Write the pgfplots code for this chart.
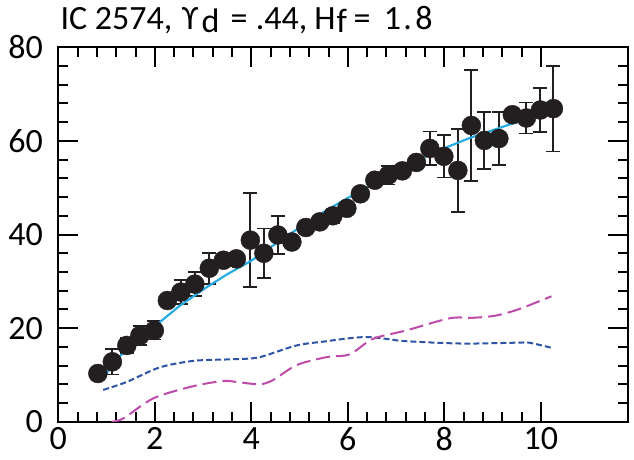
\documentclass[border=0pt]{standalone}
\usepackage{pgfplots}
\pgfplotsset{compat=1.18}
\usepackage{fontspec}
\setmainfont{Carlito}
\definecolor{dot}{RGB}{35,31,32}
\definecolor{fitblue}{RGB}{41,170,225}
\definecolor{dkblue}{RGB}{46,84,165}
\definecolor{mag}{RGB}{190,75,170}
\newcommand{\seg}[2]{\makebox[#1pt][l]{#2}}
\newcommand{\low}[1]{\raisebox{-3.5pt}{#1}}
\begin{document}
\begin{tikzpicture}
\useasboundingbox (0,0) rectangle (634pt,459pt);
\begin{axis}[
  at={(58.3pt,37.3pt)}, anchor=south west,
  scale only axis, width=569.4pt, height=374.4pt,
  xmin=0, xmax=11.8, ymin=0, ymax=80,
  xtick={0,2,...,10}, ytick={0,20,...,80},
  minor x tick num=4, minor y tick num=4,
  tick align=inside,
  major tick length=20pt, minor tick length=10pt,
  axis line style={line width=2pt},
  tick style={black, line width=2pt},
  /pgf/number format/assume math mode=true,
  ticklabel style={font=\fontsize{34}{40}\selectfont},
  yticklabel style={xshift=-12pt},
  xticklabel style={yshift=-2.5pt},
  title={\seg{121.4}{IC 2574,}\seg{19.6}{ϒ}\seg{29}{\low{d}}\seg{25.4}{=}\seg{58.6}{.44,}\seg{22.2}{H}\seg{16.8}{\low{f}}\seg{30.3}{=}\seg{19.5}{1}\seg{12}{.}8},
  title style={at={(0,1)}, anchor=base west, yshift=12pt, xshift=2pt, inner sep=0pt,
    font=\fontsize{34}{40}\selectfont},
]
\addplot[only marks, mark=*, mark size=9.5pt, color=dot, mark options={fill=dot, draw=dot},
  error bars/.cd, y dir=both, y explicit,
  error bar style={line width=1.8pt, dot},
  error mark options={rotate=90, mark size=7pt, line width=1.8pt, dot}]
  table[x=x, y=y, y error=e] {
x y e
0.82 10.3 0.5
1.12 12.8 2.7
1.42 16.3 1.6
1.69 18.4 2.0
1.99 19.5 1.95
2.26 25.9 0.5
2.54 27.7 2.6
2.83 29.4 2.55
3.13 32.8 3.3
3.42 34.5 0.5
3.69 34.8 0.5
3.98 38.8 10.0
4.26 36.0 5.3
4.55 39.9 4.0
4.84 38.4 0.5
5.13 41.5 0.5
5.42 42.7 0.5
5.69 44.0 1.5
5.98 45.6 0.5
6.26 48.7 0.5
6.56 51.6 0.5
6.84 52.7 2.0
7.13 53.6 0.5
7.42 55.4 0.5
7.70 58.4 3.6
7.99 56.7 4.5
8.28 53.7 8.9
8.56 63.3 11.9
8.83 60.1 6.1
9.13 60.5 5.7
9.41 65.6 0.5
9.70 64.9 3.3
9.99 66.6 4.7
10.26 66.9 9.15
};
\addplot[fitblue, line width=2.2pt] coordinates {
(0.93,9.6) (1.05,11.0) (1.12,12.6) (1.42,15.3) (2.0,20.4) (2.52,24.8)
(3.07,28.7) (3.5,31.5) (4.0,34.4) (4.5,38.0) (5.0,41.5) (5.56,45.2)
(6.25,49.3) (6.52,50.7) (7.0,53.3) (7.7,57.2) (8.52,60.6) (9.35,63.5) (10.21,66.0)
};
\addplot[dkblue, line width=2pt, dash pattern=on 6pt off 3pt, smooth, tension=0.5] coordinates {
(0.93,6.8) (1.42,8.5) (2.1,11.6) (2.8,13.0) (3.49,13.3) (3.97,13.5) (4.25,14.0)
(4.94,16.3) (5.56,17.2) (6.0,17.8) (6.4,18.1) (6.8,17.7) (7.21,17.2) (8.38,16.7)
(9.56,16.9) (9.75,16.9) (10.22,15.8)
};
\addplot[mag, line width=2pt, dash pattern=on 14pt off 6pt, smooth, tension=0.5] coordinates {
(1.1,0.0) (1.35,0.7) (1.97,5.0) (2.8,7.6) (3.42,8.7) (3.69,8.5) (4.17,8.0)
(4.45,8.9) (4.94,12.1) (5.56,13.8) (6.04,14.4) (6.52,17.7) (7.21,19.5)
(8.11,22.1) (8.59,22.2) (9.08,22.7) (9.56,24.1) (10.22,26.8)
};
\end{axis}
\end{tikzpicture}
\end{document}
